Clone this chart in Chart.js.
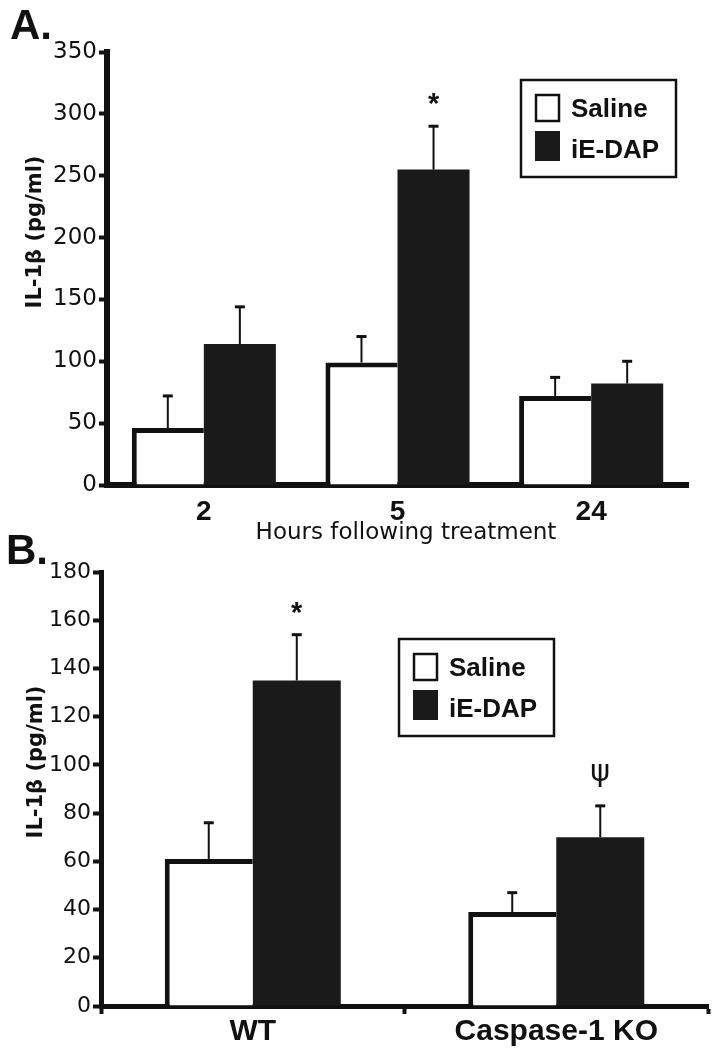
<!DOCTYPE html>
<html>
<head>
<meta charset="utf-8">
<script src="https://cdn.jsdelivr.net/npm/chart.js@4"></script>
<style>
  body { margin: 0; background: #fff; }
  #page { position: relative; width: 718px; height: 1050px; overflow: hidden; }
  .panel { position: absolute; left: 0; }
  .tag { position: absolute; font: bold 42px "Liberation Sans", Arial, sans-serif; color: #111; line-height: 1; }
</style>
</head>
<body>
<div id="page">
  <div class="panel" style="top:0"><canvas id="chartA" width="718" height="545"></canvas></div>
  <div class="panel" style="top:545px"><canvas id="chartB" width="718" height="505"></canvas></div>
  <div class="tag" style="left:10px; top:4px">A.</div>
  <div class="tag" style="left:6px; top:529px">B.</div>
</div>
<script>
// panel A: hours after treatment
const hours = ['2', '5', '24'];
const salineA = [46, 99, 72];
const salineErrA = [26, 21, 15];
const iedapA = [114, 255, 82];
const iedapErrA = [30, 35, 18];
const marksA = ['', '*', ''];
const yTicksA = [0, 50, 100, 150, 200, 250, 300, 350];

// panel B: genotype
const genotypes = ['WT', 'Caspase-1 KO'];
const salineB = [61, 39];
const salineErrB = [15, 8];
const iedapB = [135, 70];
const iedapErrB = [19, 13];
const marksB = ['*', 'ψ'];
const yTicksB = [0, 20, 40, 60, 80, 100, 120, 140, 160, 180];

const INK = '#111';
const BLACK_BAR = '#1a1a1a';

// error bars, significance marks, boxed legend and axis titles
const figureExtras = {
  id: 'figureExtras',
  afterDatasetsDraw(chart, args, opts) {
    const ctx = chart.ctx;
    const y = chart.scales.y;
    chart.data.datasets.forEach((ds, i) => {
      const meta = chart.getDatasetMeta(i);
      meta.data.forEach((bar, j) => {
        const top = y.getPixelForValue(ds.data[j] + ds.errors[j]);
        ctx.save();
        ctx.strokeStyle = INK;
        ctx.lineWidth = 2;
        ctx.beginPath();
        ctx.moveTo(bar.x, bar.y);
        ctx.lineTo(bar.x, top);
        ctx.stroke();
        ctx.lineWidth = 3;
        ctx.beginPath();
        ctx.moveTo(bar.x - 5, top);
        ctx.lineTo(bar.x + 5, top);
        ctx.stroke();
        const mark = ds.marks ? ds.marks[j] : '';
        if (mark) {
          ctx.fillStyle = INK;
          ctx.font = mark === '*' ? 'bold 29px "Liberation Sans", Arial' : '30px "DejaVu Sans", sans-serif';
          ctx.textAlign = 'center';
          ctx.textBaseline = 'alphabetic';
          const m = ctx.measureText(mark);
          const cy = top - (mark === '*' ? 27 : 30);
          ctx.fillText(mark, bar.x, cy + (m.actualBoundingBoxAscent - m.actualBoundingBoxDescent) / 2);
        }
        ctx.restore();
      });
    });
  },
  afterDraw(chart, args, opts) {
    const ctx = chart.ctx;
    ctx.save();
    // legend box
    const lx = opts.legend.x, ly = opts.legend.y;
    ctx.strokeStyle = INK;
    ctx.lineWidth = 2.5;
    ctx.strokeRect(lx, ly, 155, 97);
    ctx.font = 'bold 26px "Liberation Sans", Arial';
    ctx.textAlign = 'left';
    ctx.textBaseline = 'alphabetic';
    chart.data.datasets.forEach((ds, i) => {
      const sy = ly + 14 + i * 37;
      if (ds.backgroundColor === '#fff') {
        ctx.lineWidth = 2.5;
        ctx.strokeRect(lx + 15, sy + 1, 23, 26);
      } else {
        ctx.fillStyle = BLACK_BAR;
        ctx.fillRect(lx + 14, sy, 25, 30);
      }
      ctx.fillStyle = INK;
      ctx.fillText(ds.label, lx + 50, ly + 37 + i * 41);
    });
    // y title
    ctx.font = 'bold 21px "DejaVu Sans", sans-serif';
    ctx.textAlign = 'center';
    ctx.textBaseline = 'middle';
    ctx.translate(opts.yTitle.x, opts.yTitle.y);
    ctx.rotate(-Math.PI / 2);
    ctx.fillText(opts.yTitle.text, 0, 0);
    ctx.restore();
    if (opts.xTitle) {
      ctx.save();
      ctx.fillStyle = INK;
      ctx.font = '23px "DejaVu Sans", sans-serif';
      ctx.textAlign = 'center';
      ctx.textBaseline = 'middle';
      ctx.fillText(opts.xTitle.text, opts.xTitle.x, opts.xTitle.y);
      ctx.restore();
    }
  }
};

function buildChart(canvasId, setup) {
  return new Chart(document.getElementById(canvasId), {
    type: 'bar',
    data: {
      labels: setup.labels,
      datasets: [{
        label: 'Saline',
        data: setup.saline,
        errors: setup.salineErr,
        backgroundColor: '#fff',
        borderColor: INK,
        borderWidth: { top: 5, left: 5, right: 0, bottom: 0 },
        borderSkipped: 'bottom'
      }, {
        label: 'iE-DAP',
        data: setup.iedap,
        errors: setup.iedapErr,
        marks: setup.marks,
        backgroundColor: BLACK_BAR,
        borderWidth: 0
      }]
    },
    options: {
      responsive: false,
      animation: false,
      devicePixelRatio: 1,
      categoryPercentage: setup.barShare,
      barPercentage: 1,
      layout: { padding: setup.padding },
      plugins: {
        legend: { display: false },
        tooltip: { enabled: false },
        figureExtras: setup.extras
      },
      scales: {
        x: {
          afterFit: s => { s.height = setup.xHeight; },
          border: { color: INK, width: setup.axisWidth },
          grid: {
            drawOnChartArea: false,
            drawTicks: setup.xTicks,
            color: INK,
            tickLength: 8,
            tickWidth: 4
          },
          ticks: {
            color: INK,
            padding: setup.xPad,
            font: { family: 'Liberation Sans', weight: 'bold', size: setup.xFont }
          }
        },
        y: {
          min: 0,
          max: setup.yTicks[setup.yTicks.length - 1],
          afterBuildTicks: s => { s.ticks = setup.yTicks.map(v => ({ value: v })); },
          afterFit: s => { s.width = setup.yWidth; },
          border: { color: INK, width: setup.axisWidth },
          grid: { drawOnChartArea: false, color: INK, tickLength: 8, tickWidth: 4 },
          ticks: { color: INK, padding: 2, font: { family: 'DejaVu Sans', size: setup.yFont } }
        }
      }
    },
    plugins: [figureExtras]
  });
}

buildChart('chartA', {
  labels: hours,
  saline: salineA, salineErr: salineErrA,
  iedap: iedapA, iedapErr: iedapErrA, marks: marksA,
  yTicks: yTicksA,
  barShare: 0.744,
  padding: { top: 52, right: 30, left: 0, bottom: 0 },
  xHeight: 60, yWidth: 107, axisWidth: 6, yFont: 23,
  xTicks: false, xPad: 10, xFont: 28,
  extras: {
    legend: { x: 521, y: 80 },
    yTitle: { text: 'IL-1β (pg/ml)', x: 36, y: 232 },
    xTitle: { text: 'Hours following treatment', x: 406, y: 533 }
  }
});

buildChart('chartB', {
  labels: genotypes,
  saline: salineB, salineErr: salineErrB,
  iedap: iedapB, iedapErr: iedapErrB, marks: marksB,
  yTicks: yTicksB,
  barShare: 0.58,
  padding: { top: 27, right: 10, left: 0, bottom: 0 },
  xHeight: 44, yWidth: 101, axisWidth: 5, yFont: 22,
  xTicks: true, xPad: 0, xFont: 30,
  extras: {
    legend: { x: 399, y: 94 },
    yTitle: { text: 'IL-1β (pg/ml)', x: 37, y: 217 }
  }
});
</script>
</body>
</html>
